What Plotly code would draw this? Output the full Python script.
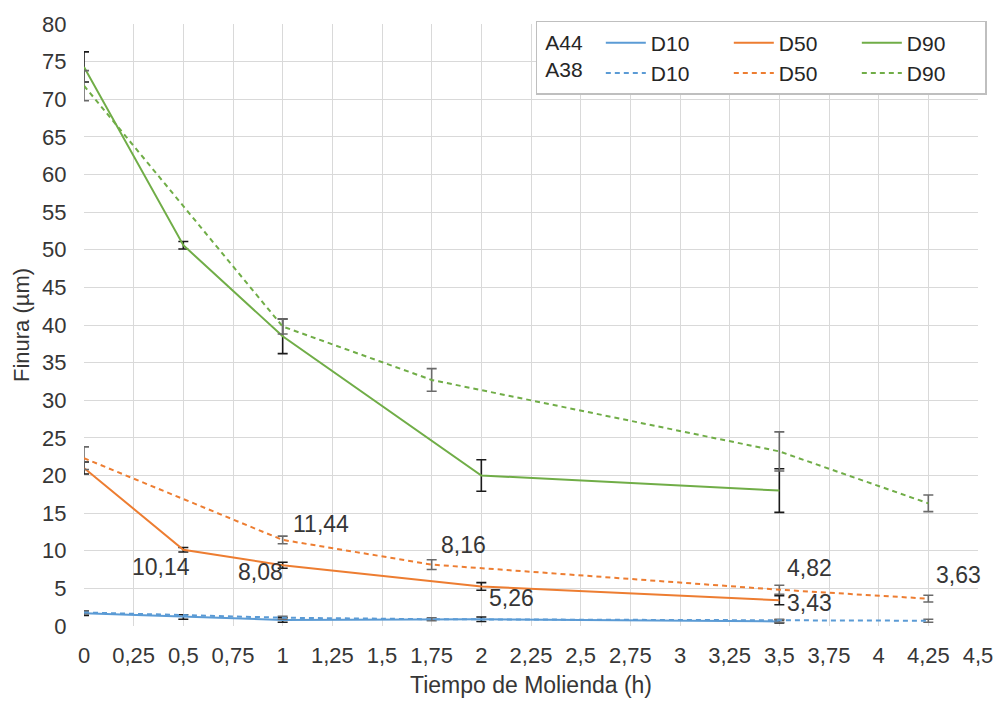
import plotly.graph_objects as go

# ---------------- data ----------------
x_a44 = [0, 0.5, 1, 2, 3.5]
a44_d10 = [1.7, 1.2, 0.8, 0.9, 0.6]
a44_d10_err = [0.3, 0.3, 0.3, 0.3, 0.2]
a44_d50 = [21.0, 10.14, 8.08, 5.26, 3.43]
a44_d50_err = [0.8, 0.3, 0.4, 0.5, 0.6]
a44_d90 = [74.3, 50.6, 38.5, 20.0, 18.0]
a44_d90_err = [2.0, 0.5, 2.3, 2.1, 2.9]

x_a38 = [0, 1, 1.75, 3.5, 4.25]
a38_d10 = [1.8, 1.1, 0.9, 0.7, 0.7]
a38_d10_err = [0.2, 0.2, 0.2, 0.2, 0.2]
a38_d50 = [22.3, 11.44, 8.16, 4.82, 3.63]
a38_d50_err = [1.5, 0.5, 0.65, 0.6, 0.45]
a38_d90 = [71.8, 39.8, 32.7, 23.2, 16.3]
a38_d90_err = [2.0, 1.0, 1.5, 2.6, 1.1]

group_labels = ["A44", "A38"]

# labelled points: (series x, series y, index)
label_points = [
    (x_a44, a44_d50, 1), (x_a44, a44_d50, 2), (x_a38, a38_d50, 1),
    (x_a38, a38_d50, 2), (x_a44, a44_d50, 3), (x_a38, a38_d50, 3),
    (x_a44, a44_d50, 4), (x_a38, a38_d50, 4),
]
# label offsets in pixels (style, not data)
label_shifts = [(-22, -17), (-22, -7), (38, 16), (32, 20), (30, -12), (30, 22), (30, -3), (30, 24)]

tick_vals_x = [i * 0.25 for i in range(19)]

BLUE = "#5B9BD5"
ORANGE = "#ED7D31"
GREEN = "#70AD47"
FONT = "Liberation Sans, Arial, sans-serif"
TXT = "#363636"

fig = go.Figure()

series = [
    ("D10", BLUE, x_a44, a44_d10, a44_d10_err, x_a38, a38_d10, a38_d10_err),
    ("D50", ORANGE, x_a44, a44_d50, a44_d50_err, x_a38, a38_d50, a38_d50_err),
    ("D90", GREEN, x_a44, a44_d90, a44_d90_err, x_a38, a38_d90, a38_d90_err),
]
for name, col, xs, ys, es, xd, yd, ed in series:
    fig.add_trace(go.Scatter(
        x=xs, y=ys, mode="lines", name=name, legendgroup=name,
        line=dict(color=col, width=2),
        error_y=dict(type="data", array=es, visible=True, color="#1a1a1a", thickness=1.6, width=5),
    ))
    fig.add_trace(go.Scatter(
        x=xd, y=yd, mode="lines", name=name, legendgroup=name,
        line=dict(color=col, width=2, dash="5px,4px"),
        error_y=dict(type="data", array=ed, visible=True, color="#6a6a6a", thickness=1.6, width=5),
    ))

def fmt(v):
    return f"{v:.2f}".replace(".", ",")

for (xs, ys, i), (dx, dy) in zip(label_points, label_shifts):
    fig.add_annotation(x=xs[i], y=ys[i], xref="x", yref="y", text=fmt(ys[i]),
                       showarrow=False, xshift=dx, yshift=dy,
                       font=dict(family=FONT, size=23, color=TXT))

legend_title = "<br>".join("\u00a0" + g + "\u00a0\u00a0" for g in group_labels)

fig.update_layout(
    width=1005, height=706,
    margin=dict(l=84, r=25, t=13, b=79),
    plot_bgcolor="white", paper_bgcolor="white",
    separators=",.",
    font=dict(family=FONT, color=TXT),
    legend=dict(
        orientation="h", traceorder="grouped",
        x=1.01, xanchor="right", y=1.005, yanchor="top",
        bgcolor="white", bordercolor="#bfbfbf", borderwidth=1.5,
        font=dict(family=FONT, size=21, color="#262626"),
        title=dict(text=legend_title, side="left", font=dict(family=FONT, size=21, color="#262626")),
        tracegroupgap=0, itemwidth=40, entrywidth=73,
    ),
    xaxis=dict(
        range=[0, 4.5], tickvals=tick_vals_x, showgrid=True, gridcolor="#d9d9d9", gridwidth=1.3,
        zeroline=False, showline=False, ticks="outside", ticklen=10, tickcolor="rgba(0,0,0,0)",
        tickfont=dict(family=FONT, size=22, color=TXT),
        title=dict(text="Tiempo de Molienda (h)", font=dict(family=FONT, size=23, color=TXT), standoff=9),
    ),
    yaxis=dict(
        range=[0, 80], dtick=5, showgrid=True, gridcolor="#d9d9d9", gridwidth=1.3,
        zeroline=False, showline=False, ticks="outside", ticklen=12, tickcolor="rgba(0,0,0,0)",
        tickfont=dict(family=FONT, size=22, color=TXT),
        title=dict(text="Finura (µm)", font=dict(family=FONT, size=22, color=TXT), standoff=6),
    ),
)

fig.write_html("out.html")
